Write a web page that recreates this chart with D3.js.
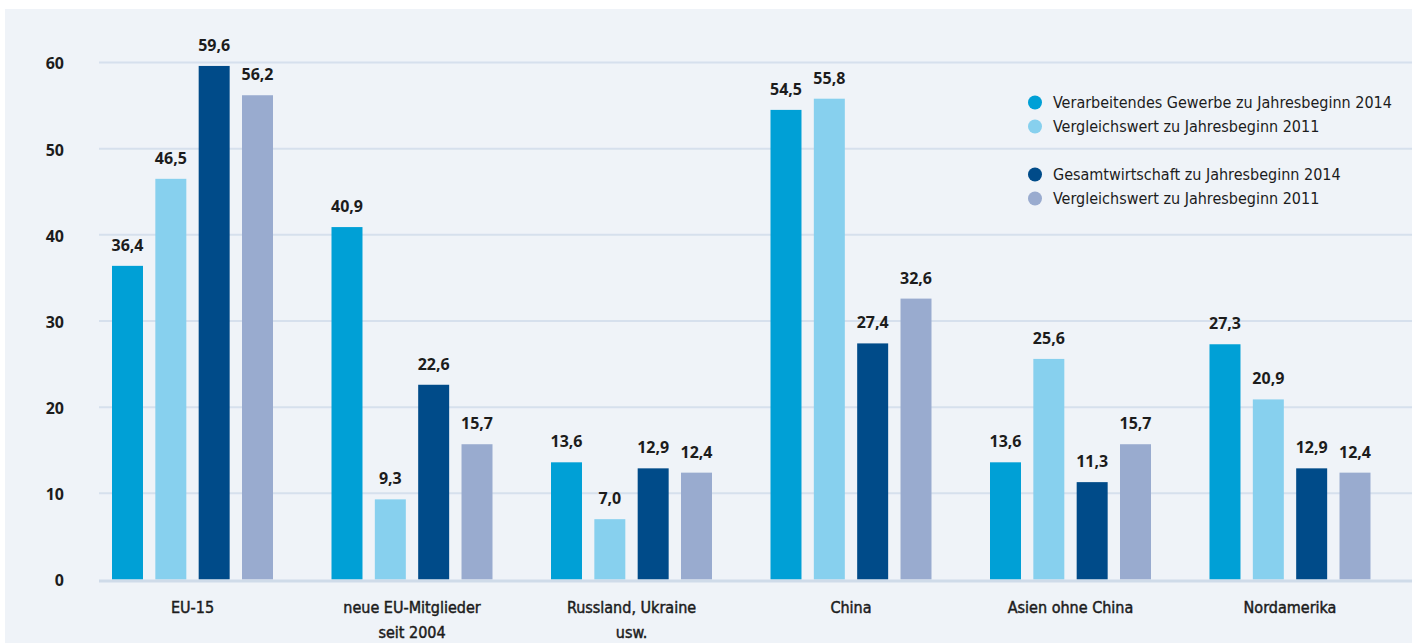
<!DOCTYPE html>
<html lang="de">
<head>
<meta charset="utf-8">
<script src="https://cdn.jsdelivr.net/npm/d3@7"></script>
<style>
  html, body { margin: 0; padding: 0; background: #ffffff; }
  svg { display: block; }
</style>
</head>
<body>
<svg id="chart" width="1414" height="643"></svg>
<script>
// Regionen (Kategorien), Zeilenumbruch mit "\n"
const categories = [
  "EU-15",
  "neue EU-Mitglieder\nseit 2004",
  "Russland, Ukraine\nusw.",
  "China",
  "Asien ohne China",
  "Nordamerika"
];

// Werte je Reihe (Prozent)
const verarbeitend2014 = [36.4, 40.9, 13.6, 54.5, 13.6, 27.3];
const verarbeitend2011 = [46.5, 9.3, 7.0, 55.8, 25.6, 20.9];
const gesamt2014 = [59.6, 22.6, 12.9, 27.4, 11.3, 12.9];
const gesamt2011 = [56.2, 15.7, 12.4, 32.6, 15.7, 12.4];

const seriesNames = [
  "Verarbeitendes Gewerbe zu Jahresbeginn 2014",
  "Vergleichswert zu Jahresbeginn 2011",
  "Gesamtwirtschaft zu Jahresbeginn 2014",
  "Vergleichswert zu Jahresbeginn 2011"
];
const seriesColors = ["#00a0d6", "#87d0ee", "#004b89", "#99abcf"];

const yTicks = [0, 10, 20, 30, 40, 50, 60];

const series = [verarbeitend2014, verarbeitend2011, gesamt2014, gesamt2011];

const svg = d3.select("#chart");
const W = 1414, H = 643;

// Hintergrundfläche
svg.append("rect")
  .attr("x", 5).attr("y", 9)
  .attr("width", 1407).attr("height", H - 9)
  .attr("fill", "#eff3f8");

const plotLeft = 99, plotRight = 1412;

const x0 = d3.scaleBand()
  .domain(d3.range(categories.length))
  .range([82.75, 82.75 + 219.5 * categories.length])
  .paddingInner(0).paddingOuter(0);

const x1 = d3.scaleBand()
  .domain(d3.range(series.length))
  .range([-80.5, 80.5])
  .paddingInner(0.285).paddingOuter(0);

const y = d3.scaleLinear().domain([0, 60]).range([579.5, 62.5]);

const numFont = "'Noto Sans', 'DejaVu Sans', sans-serif";
const narrowFont = "'DejaVu Sans Condensed', 'Liberation Sans Narrow', sans-serif";
const textColor = "#1c1c1c";

// Gitterlinien
svg.append("g")
  .selectAll("line")
  .data(yTicks.filter(d => d > 0))
  .join("line")
  .attr("x1", plotLeft).attr("x2", plotRight)
  .attr("y1", d => y(d)).attr("y2", d => y(d))
  .attr("stroke", "#d6e0ed").attr("stroke-width", 2);

// Y-Achse
const yAxis = d3.axisLeft(y).tickValues(yTicks).tickSize(0).tickPadding(0).tickFormat(d3.format("d"));
const yg = svg.append("g").attr("transform", "translate(64,0)").call(yAxis);
yg.select(".domain").remove();
yg.selectAll("text")
  .attr("font-family", numFont)
  .attr("font-size", 16)
  .attr("font-weight", 700)
  .attr("fill", textColor)
  .attr("dy", "0.4em");

// Balken
const groups = svg.append("g")
  .selectAll("g")
  .data(categories.map((c, i) => i))
  .join("g")
  .attr("transform", i => `translate(${x0(i) + x0.bandwidth() / 2},0)`);

groups.selectAll("rect")
  .data(i => series.map((s, k) => ({ k, v: s[i] })))
  .join("rect")
  .attr("x", d => x1(d.k))
  .attr("width", x1.bandwidth())
  .attr("y", d => y(d.v))
  .attr("height", d => y(0) - y(d.v))
  .attr("fill", d => seriesColors[d.k]);

// Wertebeschriftung
const fmt = v => d3.format(".1f")(v).replace(".", ",");
groups.selectAll("text.val")
  .data(i => series.map((s, k) => ({ k, v: s[i] })))
  .join("text")
  .attr("class", "val")
  .attr("x", d => x1(d.k) + x1.bandwidth() / 2)
  .attr("y", d => y(d.v) - 15)
  .attr("text-anchor", "middle")
  .attr("font-family", numFont)
  .attr("font-size", 16)
  .attr("font-weight", 700)
  .attr("fill", textColor)
  .text(d => fmt(d.v));

// Nulllinie
svg.append("line")
  .attr("x1", plotLeft).attr("x2", plotRight)
  .attr("y1", y(0) + 1.5).attr("y2", y(0) + 1.5)
  .attr("stroke", "#cfdbe9").attr("stroke-width", 3);

// Kategorienbeschriftung
groups.append("text")
  .attr("text-anchor", "middle")
  .attr("font-family", narrowFont)
  .attr("font-size", 16)
  .attr("fill", textColor)
  .attr("stroke", textColor)
  .attr("stroke-width", 0.45)
  .each(function (i) {
    const lines = categories[i].split("\n");
    d3.select(this).selectAll("tspan")
      .data(lines)
      .join("tspan")
      .attr("x", 0)
      .attr("y", (d, j) => 613 + j * 25)
      .text(d => d);
  });

// Legende
const legendRows = [102.5, 126.5, 174.5, 198.5];
const legend = svg.append("g");
seriesNames.forEach((name, k) => {
  legend.append("circle")
    .attr("cx", 1035).attr("cy", legendRows[k])
    .attr("r", 7)
    .attr("fill", seriesColors[k]);
  legend.append("text")
    .attr("x", 1053).attr("y", legendRows[k])
    .attr("dy", "0.35em")
    .attr("font-family", narrowFont)
    .attr("font-size", 16)
    .attr("fill", textColor)
    .text(name);
});
</script>
</body>
</html>
